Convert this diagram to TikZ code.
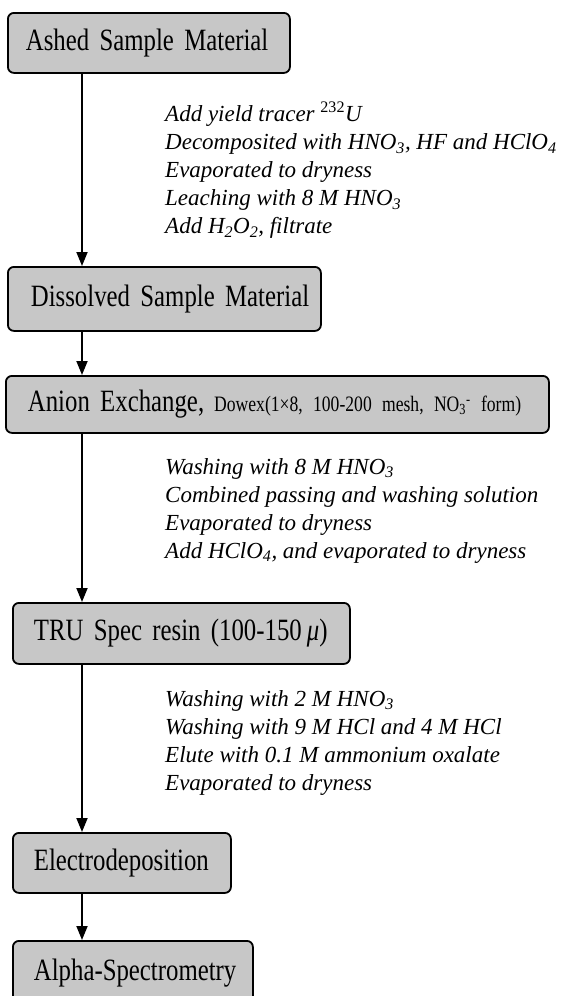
\documentclass[tikz,border=0pt]{standalone}
\usepackage{fontspec}
\setmainfont{Liberation Serif}
\newfontfamily\boxfont[FakeStretch=0.8,WordSpace=1.25]{Liberation Serif}
\usetikzlibrary{arrows.meta}
\tikzset{
  stepbox/.style={draw=black, line width=1.8pt, rounded corners=6pt, fill=black!22,
    anchor=north west, inner xsep=0pt, inner ysep=0pt, align=left,
    font=\boxfont\fontsize{31}{31}\selectfont},
  note/.style={anchor=north west, inner sep=0pt, align=left,
    font=\itshape\fontsize{23}{28}\selectfont},
  arr/.style={line width=1.8pt, -{Triangle[length=14pt,width=11pt]}},
}
\newcommand{\sm}[1]{{\fontsize{22}{22}\selectfont #1}}
\newcommand{\pad}[2]{\hspace*{#1}\mbox{#2}}
\begin{document}
\begin{tikzpicture}[x=1pt,y=-1pt]
\useasboundingbox (0,0) rectangle (563,996);
\clip (0,0) rectangle (563,996);
\coordinate (ax) at (82,0);
\node[stepbox, text width=282pt, minimum height=60pt] (b1) at (7,12) {\pad{18pt}{Ashed Sample Material}};
\node[stepbox, text width=313pt, minimum height=64pt] (b2) at (7,266) {\pad{23pt}{Dissolved Sample Material}};
\node[stepbox, text width=543pt, minimum height=57pt] (b3) at (5,375) {\pad{22pt}{Anion Exchange,\hspace{10pt}\sm{Dowex(1×8, 100-200 mesh, NO\textsubscript{3}\textsuperscript{-} form)}}};
\node[stepbox, text width=337pt, minimum height=61pt] (b4) at (12,602) {\pad{21pt}{TRU Spec resin (100-150\,{\itshape μ})}};
\node[stepbox, text width=218pt, minimum height=60pt] (b5) at (12,832) {\pad{21pt}{Electrodeposition}};
\node[stepbox, text width=240pt, minimum height=64pt] (b6) at (12,940) {\pad{21pt}{Alpha-Spectrometry}};

\node[note] (n1) at (165,102) {Add yield tracer \textsuperscript{\upshape 232}U\\
Decomposited with HNO\textsubscript{3}, HF and HClO\textsubscript{4}\\
Evaporated to dryness\\
Leaching with 8 M HNO\textsubscript{3}\\
Add H\textsubscript{2}O\textsubscript{2}, filtrate};
\node[note] (n2) at (165,458) {Washing with 8 M HNO\textsubscript{3}\\
Combined passing and washing solution\\
Evaporated to dryness\\
Add HClO\textsubscript{4}, and evaporated to dryness};
\node[note] (n3) at (165,690) {Washing with 2 M HNO\textsubscript{3}\\
Washing with 9 M HCl and 4 M HCl\\
Elute with 0.1 M ammonium oxalate\\
Evaporated to dryness};

\draw[arr] (b1.south -| ax) -- (b2.north -| ax);
\draw[arr] (b2.south -| ax) -- (b3.north -| ax);
\draw[arr] (b3.south -| ax) -- (b4.north -| ax);
\draw[arr] (b4.south -| ax) -- (b5.north -| ax);
\draw[arr] (b5.south -| ax) -- (b6.north -| ax);
\end{tikzpicture}
\end{document}
